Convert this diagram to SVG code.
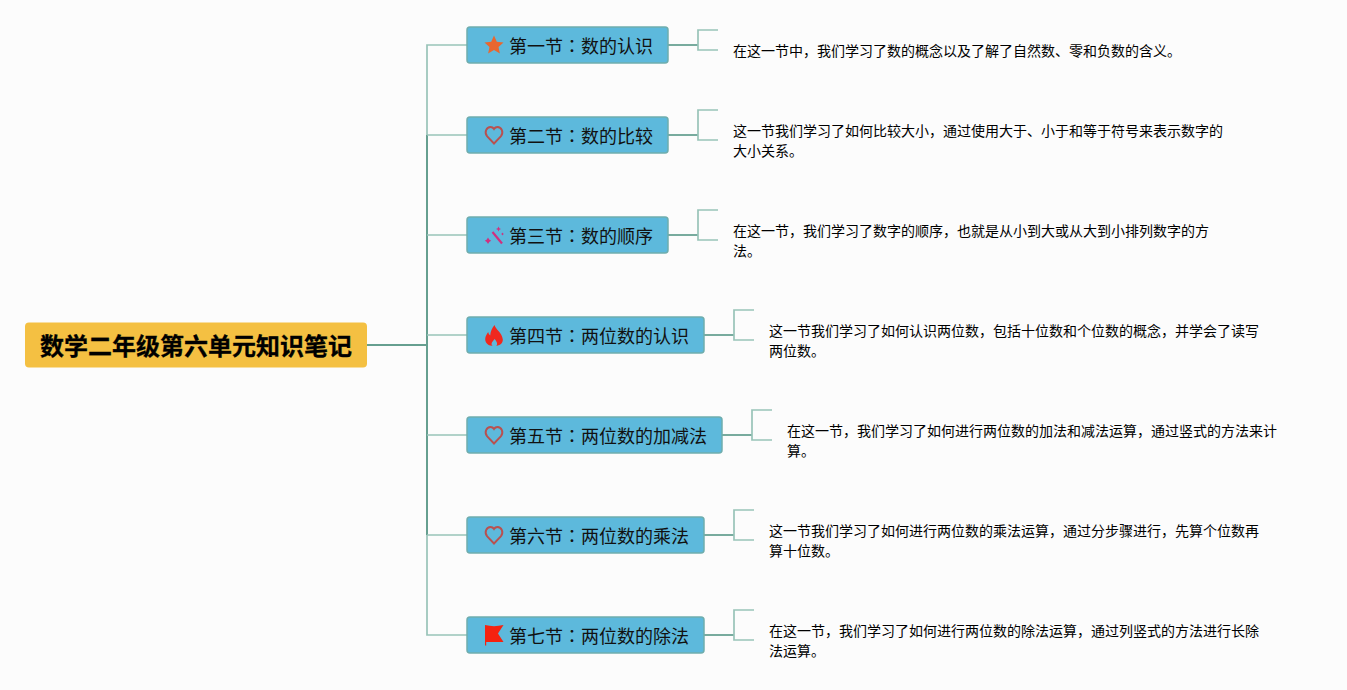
<svg xmlns="http://www.w3.org/2000/svg" width="1347" height="690" viewBox="0 0 1347 690">
<style>
text{font-family:"Noto Sans CJK SC","Noto Sans",sans-serif;fill:#000}
.n{fill:#5db9dc;stroke:#6fadad;stroke-width:1.5}
.t{font-size:18px;fill:#111}
.c{font-family:"Noto Sans CJK TC","Noto Sans",sans-serif}
.d{font-size:14px}
.l{fill:none;stroke:#98c3b8;stroke-width:1.700}
.k{fill:none;stroke:#669f90;stroke-width:2}
.m{fill:none;stroke:#78ab9e;stroke-width:2}
</style>
<rect width="1347" height="690" fill="#fcfcfc"/>
<g id="connectors">
<path class="k" d="M367 345H427M427 135V535"/>
<path class="l" d="M467 45H427V135M427 535V635H467M427 135H467M427 235H467M427 335H467M427 435H467M427 535H467"/>
<path class="m" d="M668 45H698M668 135H698M668 235H698M704 335H734M722 435H752M704 535H734M704 635H734"/>
<path class="l" d="M718 30H698V50H718M718 110H698V140H718M718 210H698V240H718M754 310H734V340H754M772 410H752V440H772M754 510H734V540H754M754 610H734V640H754"/>
</g>
<g id="root"><rect x="25" y="322.500" width="342" height="45" rx="4" fill="#f4c042"/><text x="40" y="355" font-size="24" font-weight="700" stroke="#000" stroke-width=".3" fill="#000">数学二年级第六单元知识笔记</text></g>
<g id="n1"><rect class="n" x="467" y="27" width="201" height="36" rx="3"/>
<path d="M494 35.500l2.800 6.200 6.700.7-5 4.500 1.400 6.600-5.900-3.400-5.900 3.400 1.400-6.600-5-4.500 6.700-.7z" fill="#e8672f"/>
<text class="t" x="509" y="53">第一节<tspan class="c">：</tspan>数的认识</text></g>
<g id="n2"><rect class="n" x="467" y="117" width="201" height="36" rx="3"/>
<path id="heart" d="M494 143.500l-6.800-7.200c-3.400-4-.6-9.300 3.300-9.300 1.500 0 2.700.7 3.500 2 .8-1.300 2-2 3.500-2 3.900 0 6.700 5.300 3.300 9.300z" fill="none" stroke="#b9504f" stroke-width="1.900"/>
<text class="t" x="509" y="143">第二节<tspan class="c">：</tspan>数的比较</text></g>
<g id="n3"><rect class="n" x="467" y="217" width="201" height="36" rx="3"/>
<path d="M492.500 232l9.500 11.500" stroke="#d0307f" stroke-width="2.200" fill="none"/>
<path d="M498.500 226.500l.8 1.700 1.700.8-1.700.8-.8 1.700-.8-1.700-1.700-.8 1.700-.8zM488 237.500l1.200 2 2 1.200-2 1.200-1.200 2-1.200-2-2-1.200 2-1.200zM502.500 232.500l.6.900.9.600-.9.600-.6.900-.6-.9-.9-.6.900-.6z" fill="#d0307f"/>
<text class="t" x="509" y="243">第三节<tspan class="c">：</tspan>数的顺序</text></g>
<g id="n4"><rect class="n" x="467" y="317" width="237" height="36" rx="3"/>
<path d="M494.500 325c.8 4 7.800 8 8.300 14.500.3 3.800-3 6.500-8.800 6.500s-8.800-2.800-8.800-7c.1-3 1.700-5 3-7 .4 1.700 1 2.700 2 3.400.2-4.300 2-7.400 4.300-10.400zM494.500 339c-.7 1.500-2.700 2.700-2.900 4.500-.1 1 .3 2 1 2.500h3.600c1.500-1.500 1.300-4-1.700-7z" fill="#f0281e" fill-rule="evenodd"/>
<text class="t" x="509" y="343">第四节<tspan class="c">：</tspan>两位数的认识</text></g>
<g id="n5"><rect class="n" x="467" y="417" width="255" height="36" rx="3"/>
<use href="#heart" y="300"/>
<text class="t" x="509" y="443">第五节<tspan class="c">：</tspan>两位数的加减法</text></g>
<g id="n6"><rect class="n" x="467" y="517" width="237" height="36" rx="3"/>
<use href="#heart" y="400"/>
<text class="t" x="509" y="543">第六节<tspan class="c">：</tspan>两位数的乘法</text></g>
<g id="n7"><rect class="n" x="467" y="617" width="237" height="36" rx="3"/>
<path d="M485 625c6 1.500 12 1.500 18.500 0l-5.500 8.500 5.500 8.500h-17.300v3.500H485z" fill="#f5220f"/>
<text class="t" x="509" y="643">第七节<tspan class="c">：</tspan>两位数的除法</text></g>
<g id="d1"><text class="d" x="733" y="56">在这一节中，我们学习了数的概念以及了解了自然数、零和负数的含义。</text></g>
<g id="d2"><text class="d" x="733" y="136">这一节我们学习了如何比较大小，通过使用大于、小于和等于符号来表示数字的</text><text class="d" x="733" y="156">大小关系。</text></g>
<g id="d3"><text class="d" x="733" y="236">在这一节，我们学习了数字的顺序，也就是从小到大或从大到小排列数字的方</text><text class="d" x="733" y="256">法。</text></g>
<g id="d4"><text class="d" x="769" y="336">这一节我们学习了如何认识两位数，包括十位数和个位数的概念，并学会了读写</text><text class="d" x="769" y="356">两位数。</text></g>
<g id="d5"><text class="d" x="787" y="436">在这一节，我们学习了如何进行两位数的加法和减法运算，通过竖式的方法来计</text><text class="d" x="787" y="456">算。</text></g>
<g id="d6"><text class="d" x="769" y="536">这一节我们学习了如何进行两位数的乘法运算，通过分步骤进行，先算个位数再</text><text class="d" x="769" y="556">算十位数。</text></g>
<g id="d7"><text class="d" x="769" y="636">在这一节，我们学习了如何进行两位数的除法运算，通过列竖式的方法进行长除</text><text class="d" x="769" y="656">法运算。</text></g>
</svg>
